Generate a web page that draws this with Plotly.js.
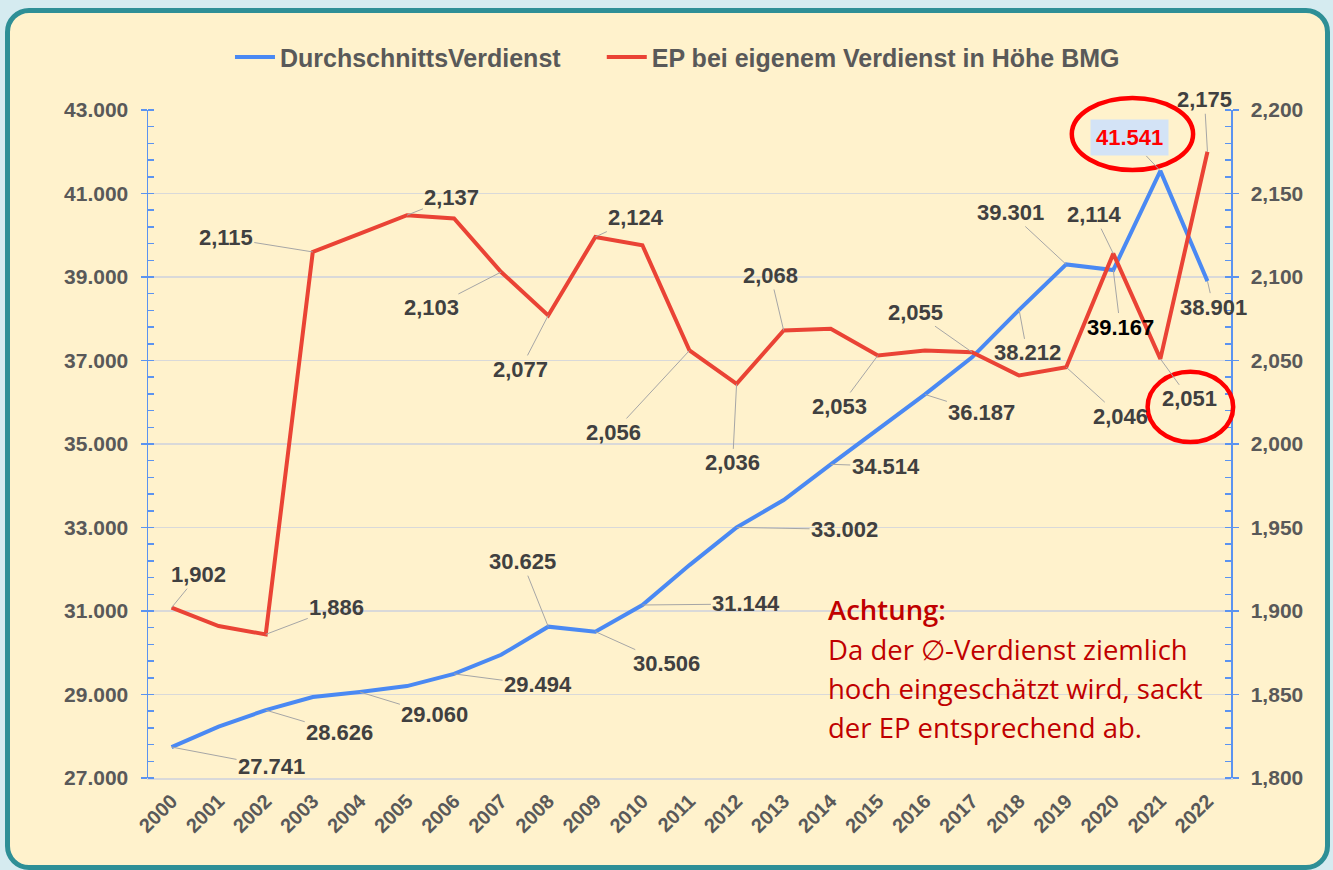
<!DOCTYPE html>
<html>
<head>
<meta charset="utf-8">
<script src="https://cdn.plot.ly/plotly-3.0.1.min.js"></script>
<style>
html,body{margin:0;padding:0;width:1333px;height:870px;overflow:hidden;background:#d5ebf0;}
#frame{position:absolute;left:5px;top:8px;width:1325px;height:862px;box-sizing:border-box;border:5px solid #2e8f96;border-radius:24px;background:#fff2cc;}
#chart{position:absolute;left:0;top:0;width:1333px;height:870px;}
</style>
</head>
<body>
<div id="frame"></div>
<div id="chart"></div>
<script>
// ---- data ----
const years = ['2000','2001','2002','2003','2004','2005','2006','2007','2008','2009','2010','2011',
               '2012','2013','2014','2015','2016','2017','2018','2019','2020','2021','2022'];
const avgEarnings = [27741, 28231, 28626, 28938, 29060, 29202, 29494, 29951, 30625, 30506, 31144, 32100,
                     33002, 33659, 34514, 35363, 36187, 37077, 38212, 39301, 39167, 41541, 38901];
const epValues = [1.902, 1.891, 1.886, 2.115, 2.126, 2.137, 2.135, 2.103, 2.077, 2.124, 2.119, 2.056,
                  2.036, 2.068, 2.069, 2.053, 2.056, 2.055, 2.041, 2.046, 2.114, 2.051, 2.175];
const seriesNames = ['DurchschnittsVerdienst', 'EP bei eigenem Verdienst in Höhe BMG'];
const noteLines = ['Achtung:', 'Da der \u2205-Verdienst ziemlich', 'hoch eingeschätzt wird, sackt', 'der EP entsprechend ab.'];

// ---- label placement (pixel offsets of label from its point) ----
const blueLabelOffsets = {
  '2000':[100,19], '2002':[74,22], '2004':[75,23], '2006':[84,11], '2008':[-26,-65],
  '2009':[71,32], '2010':[104,-1], '2012':[108,2], '2014':[55,2], '2016':[57,18],
  '2018':[8,43], '2019':[-56,-52], '2020':[7,57], '2021':[-31,-33], '2022':[6,26]
};
const redLabelOffsets = {
  '2000':[27,-33], '2002':[71,-27], '2003':[-87,-14], '2005':[45,-18], '2007':[-70,36],
  '2008':[-28,54], '2009':[41,-19], '2011':[-76,82], '2012':[-4,79], '2013':[-13,-55],
  '2015':[-38,51], '2017':[-57,-40], '2019':[54,49], '2020':[-19,-39], '2021':[29,40], '2022':[-3,-52]
};

const BLUE = '#4a89f3';
const RED = '#ea4335';
const AXIS_BLUE = '#5b93f0';
const FONT = 'Liberation Sans, Arial, sans-serif';

function fmtThousands(v){ return String(Math.round(v)).replace(/\B(?=(\d{3})+(?!\d))/g, '.'); }
function fmtEP(v){ return v.toFixed(3).replace('.', ','); }

const traces = [
  {x: years, y: avgEarnings, name: seriesNames[0], type: 'scatter', mode: 'lines',
   line: {color: BLUE, width: 4}, yaxis: 'y', legend: 'legend', hoverinfo: 'skip'},
  {x: years, y: epValues, name: seriesNames[1], type: 'scatter', mode: 'lines',
   line: {color: RED, width: 4}, yaxis: 'y2', legend: 'legend2', hoverinfo: 'skip'}
];

const annotations = [];
const labelFont = {family: FONT, size: 22, color: '#404040', weight: 'bold'};
years.forEach((yr, i) => {
  if (blueLabelOffsets[yr]) {
    const o = blueLabelOffsets[yr];
    const a = {x: i, y: avgEarnings[i], xref: 'x', yref: 'y', text: fmtThousands(avgEarnings[i]),
      showarrow: true, arrowhead: 0, arrowwidth: 1, arrowcolor: '#a6a6a6', ax: o[0], ay: o[1],
      font: Object.assign({}, labelFont), standoff: 0};
    if (yr === '2020') a.font.color = '#000000';
    if (yr === '2021') { a.font.color = '#ff0000'; a.bgcolor = '#d3e3f6'; a.borderpad = 5; }
    annotations.push(a);
  }
  if (redLabelOffsets[yr]) {
    const o = redLabelOffsets[yr];
    annotations.push({x: i, y: epValues[i], xref: 'x', yref: 'y2', text: fmtEP(epValues[i]),
      showarrow: true, arrowhead: 0, arrowwidth: 1, arrowcolor: '#a6a6a6', ax: o[0], ay: o[1],
      font: Object.assign({}, labelFont), standoff: 0});
  }
});

const noteY = [0.2515, 0.193, 0.1347, 0.0763];
noteLines.forEach((t, k) => {
  annotations.push({xref: 'paper', yref: 'paper', x: 0.626, y: noteY[k], xanchor: 'left', yanchor: 'middle',
    text: t, showarrow: false, align: 'left',
    font: {family: 'Open Sans, sans-serif', size: 27.5, color: '#c00000', weight: k === 0 ? 600 : 400}});
});

const legendFont = {family: FONT, size: 25, color: '#595959', weight: 'bold'};
const layout = {
  width: 1333, height: 870,
  margin: {l: 148, r: 102, t: 110, b: 92},
  paper_bgcolor: 'rgba(0,0,0,0)', plot_bgcolor: 'rgba(0,0,0,0)',
  separators: ',.',
  showlegend: true,
  legend: {orientation: 'h', x: 0.0757, xanchor: 'left', y: 1.079, yanchor: 'middle',
    font: legendFont, bgcolor: 'rgba(0,0,0,0)', itemwidth: 40},
  legend2: {orientation: 'h', x: 0.419, xanchor: 'left', y: 1.079, yanchor: 'middle',
    font: legendFont, bgcolor: 'rgba(0,0,0,0)', itemwidth: 40},
  xaxis: {type: 'category', range: [-0.5, 22.5], tickangle: -45, showgrid: false,
    showline: true, linecolor: '#d9d9d9', linewidth: 1.5, ticks: '', zeroline: false,
    tickfont: {family: FONT, size: 20, color: '#595959', weight: 'bold'}, ticklabelstandoff: 2, fixedrange: true},
  yaxis: {range: [27000, 43000], dtick: 2000, tick0: 27000, tickformat: ',.0f',
    showgrid: true, gridcolor: '#d9d9d9', gridwidth: 1.5, zeroline: false,
    showline: true, linecolor: AXIS_BLUE, linewidth: 1.5,
    ticks: 'outside', ticklen: 6, tickcolor: AXIS_BLUE, tickwidth: 1.5,
    minor: {dtick: 400, tick0: 27000, ticks: 'inside', ticklen: 6, tickcolor: AXIS_BLUE, tickwidth: 1.5, showgrid: false},
    tickfont: {family: FONT, size: 21, color: '#595959', weight: 'bold'}, ticklabelstandoff: 8, fixedrange: true},
  yaxis2: {range: [1.8, 2.2], dtick: 0.05, tick0: 1.8, tickformat: '.3f', overlaying: 'y', side: 'right',
    showgrid: false, zeroline: false, showline: true, linecolor: AXIS_BLUE, linewidth: 1.5,
    ticks: 'outside', ticklen: 6, tickcolor: AXIS_BLUE, tickwidth: 1.5,
    minor: {dtick: 0.01, tick0: 1.8, ticks: 'inside', ticklen: 6, tickcolor: AXIS_BLUE, tickwidth: 1.5, showgrid: false},
    tickfont: {family: FONT, size: 21, color: '#595959', weight: 'bold'}, ticklabelstandoff: 8, fixedrange: true},
  annotations: annotations,
  shapes: [
    {type: 'circle', xref: 'paper', yref: 'paper', x0: 0.853, x1: 0.965, y0: 0.910, y1: 1.018,
     line: {color: '#ff0000', width: 4.5}},
    {type: 'circle', xref: 'paper', yref: 'paper', x0: 0.923, x1: 1.002, y0: 0.503, y1: 0.608,
     line: {color: '#ff0000', width: 4.5}}
  ]
};

Plotly.newPlot('chart', traces, layout, {displayModeBar: false, staticPlot: true});
</script>
</body>
</html>
